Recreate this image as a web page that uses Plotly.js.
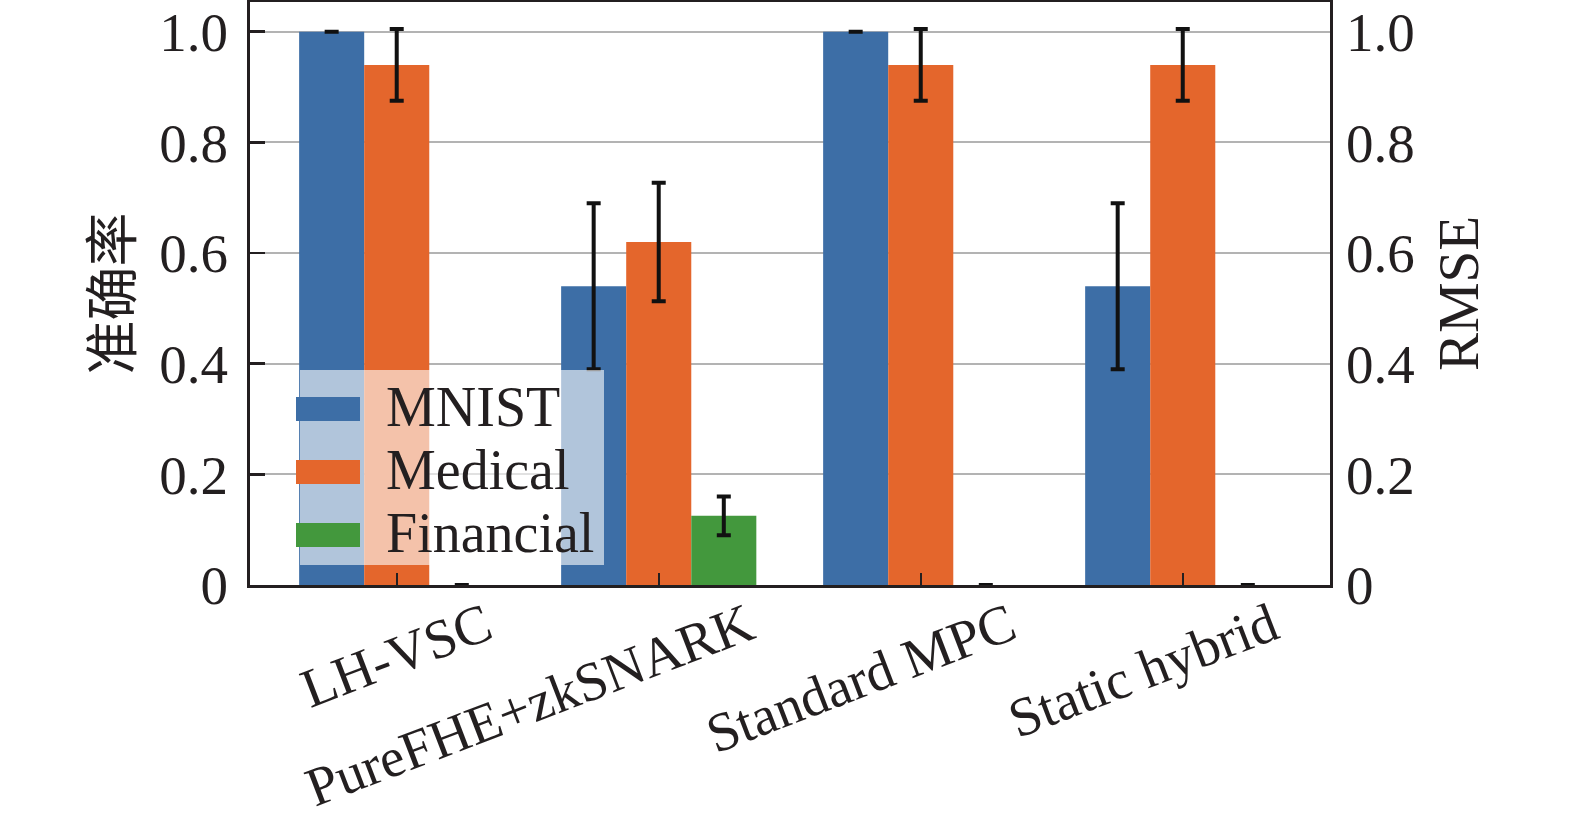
<!DOCTYPE html>
<html>
<head>
<meta charset="utf-8">
<script src="https://cdn.plot.ly/plotly-3.0.1.min.js"></script>
<style>
  html, body { margin: 0; padding: 0; background: #fff; }
  #chart { width: 1575px; height: 823px; }
</style>
</head>
<body>
<div id="chart"></div>
<script>
/* ── data ── */
const categories    = ['LH-VSC', 'PureFHE+zkSNARK', 'Standard MPC', 'Static hybrid'];
const seriesNames   = ['MNIST', 'Medical', 'Financial'];
const mnistAcc      = [1.0, 0.54, 1.0, 0.54];
const mnistErr      = [0, 0.15, 0, 0.15];
const medicalAcc    = [0.94, 0.62, 0.94, 0.94];
const medicalErr    = [0.065, 0.107, 0.065, 0.065];
const financialRmse = [0, 0.125, 0, 0];
const financialErr  = [0, 0.035, 0, 0];
const yTickVals     = [0, 0.2, 0.4, 0.6, 0.8, 1.0];
const yTickText     = ['0', '0.2', '0.4', '0.6', '0.8', '1.0'];

const COLORS = ['#3d6ea6', '#e4662c', '#43983d'];
const FONT   = "'Liberation Serif', 'Times New Roman', 'Noto Sans CJK SC', serif";
const INK    = '#231f20';

// plot area in page pixels, used only to place the hand-made legend
const PLOT = { x0: 250, x1: 1330, y0: 2, y1: 585 };
const px = v => (v - PLOT.x0) / (PLOT.x1 - PLOT.x0);
const py = v => (PLOT.y1 - v) / (PLOT.y1 - PLOT.y0);

function errBar(arr) {
  return { type: 'data', array: arr, visible: true, color: '#111', thickness: 4, width: 7 };
}

const traces = [
  {
    type: 'bar', name: seriesNames[0], x: categories, y: mnistAcc,
    offsetgroup: '1', yaxis: 'y',
    marker: { color: COLORS[0] }, error_y: errBar(mnistErr),
  },
  {
    type: 'bar', name: seriesNames[1], x: categories, y: medicalAcc,
    offsetgroup: '2', yaxis: 'y',
    marker: { color: COLORS[1] }, error_y: errBar(medicalErr),
  },
  {
    type: 'bar', name: seriesNames[2], x: categories, y: financialRmse,
    offsetgroup: '3', yaxis: 'y2',
    marker: { color: COLORS[2] }, error_y: errBar(financialErr),
  },
];

/* ── legend: wide flat swatches like the original ── */
const shapes = [{
  type: 'rect', xref: 'paper', yref: 'paper', layer: 'above',
  x0: px(300), x1: px(604), y0: py(565), y1: py(370),
  fillcolor: 'rgba(255,255,255,0.6)', line: { width: 0 },
}];
const annotations = [];
seriesNames.forEach((name, i) => {
  const cy = 409 + 63 * i;
  shapes.push({
    type: 'rect', xref: 'paper', yref: 'paper', layer: 'above',
    x0: px(296), x1: px(360), y0: py(cy + 12), y1: py(cy - 12),
    fillcolor: COLORS[i], line: { width: 0 },
  });
  annotations.push({
    xref: 'paper', yref: 'paper', x: px(384), y: py(cy - 2),
    xanchor: 'left', yanchor: 'middle', showarrow: false,
    text: name, font: { size: 56, color: INK },
  });
});

const layout = {
  width: 1575, height: 823,
  margin: { l: 250, r: 245, t: 2, b: 238 },
  paper_bgcolor: '#fff', plot_bgcolor: '#fff',
  font: { family: FONT, color: INK, size: 55 },
  barmode: 'group', bargap: 0.255, bargroupgap: 0,
  showlegend: false,
  shapes, annotations,
  xaxis: {
    type: 'category', range: [-0.56, 3.562],
    ticks: 'inside', ticklen: 12, tickwidth: 2, tickcolor: INK,
    showline: true, linewidth: 3, linecolor: INK, mirror: true,
    tickangle: -21, tickfont: { size: 55 }, ticklabelshift: 89, ticklabelstandoff: -15,
    showgrid: false, zeroline: false,
  },
  yaxis: {
    range: [0, 1.0537], tickvals: yTickVals, ticktext: yTickText,
    ticks: 'inside', ticklen: 15, tickwidth: 2.5, tickcolor: INK,
    showline: true, linewidth: 3, linecolor: INK, mirror: true,
    showgrid: true, gridcolor: '#b3b3b3', gridwidth: 2, zeroline: false,
    tickfont: { size: 55 }, ticklabelstandoff: 8,
    title: { text: '准确率', font: { size: 54 }, standoff: 10 },
  },
  yaxis2: {
    overlaying: 'y', side: 'right',
    range: [0, 1.0537], tickvals: yTickVals, ticktext: yTickText,
    ticks: '', showline: false, showgrid: false, zeroline: false,
    tickfont: { size: 55 }, ticklabelstandoff: 15,
    title: { text: 'RMSE', font: { size: 57 }, standoff: 24 },
  },
};

Plotly.newPlot('chart', traces, layout, { staticPlot: true, displayModeBar: false });
</script>
</body>
</html>
